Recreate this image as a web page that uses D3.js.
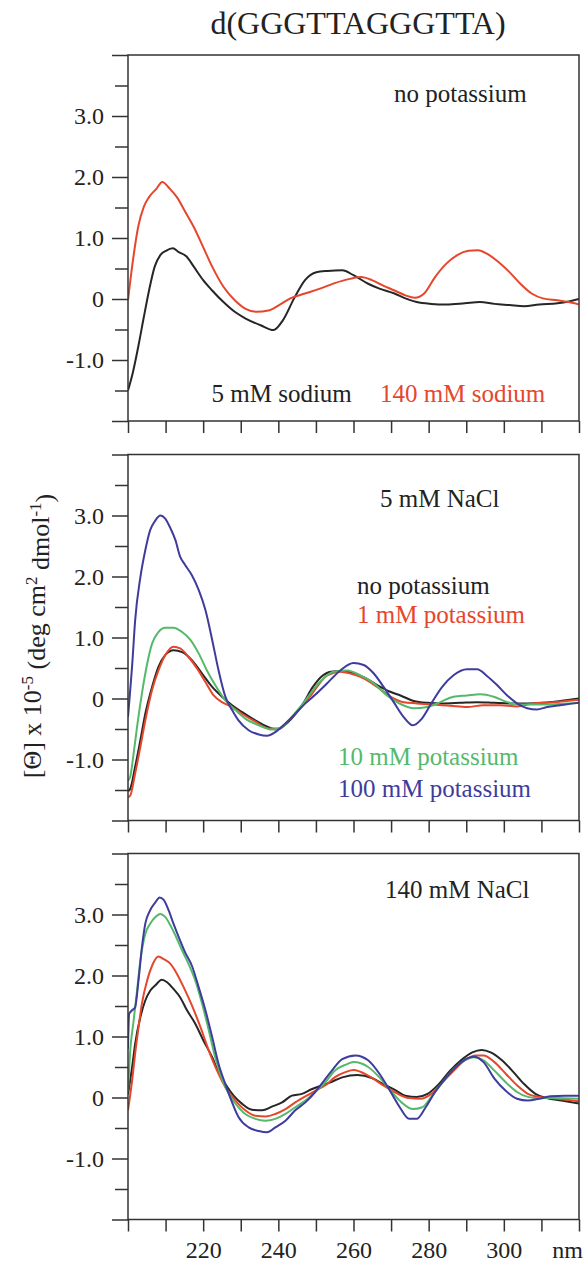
<!DOCTYPE html>
<html>
<head>
<meta charset="utf-8">
<script src="https://cdn.jsdelivr.net/npm/d3@7"></script>
<style>
  html, body { margin: 0; padding: 0; background: #fff; }
  svg { display: block; }
  text { font-family: "Liberation Serif", "Times New Roman", serif; fill: #222; }
</style>
</head>
<body>
<svg id="chart" width="583" height="1263"></svg>
<script>
// ---------------- DATA ----------------
const title = "d(GGGTTAGGGTTA)";
const xTickValues = [200, 210, 220, 230, 240, 250, 260, 270, 280, 290, 300, 310, 320];
const xTickLabels = [220, 240, 260, 280, 300];
const yMajorTicks = [-2, -1, 0, 1, 2, 3, 4];
const yMinorTicks = [-1.5, -0.5, 0.5, 1.5, 2.5, 3.5];
const yTickLabels = { "3": "3.0", "2": "2.0", "1": "1.0", "0": "0", "-1": "-1.0" };

// Panel 1: no potassium
const p1Sodium5 = [[200,-1.5],[201.2,-1.23],[202.7,-0.79],[204.2,-0.3],[205.6,0.14],[207.1,0.53],[208.6,0.72],[210.1,0.79],[211.9,0.83],[213.5,0.77],[215.5,0.7],[217.5,0.53],[220,0.31],[222.4,0.14],[225.4,-0.05],[228.4,-0.21],[231.3,-0.32],[235.3,-0.43],[238.7,-0.51],[241.2,-0.35],[244.2,0.01],[247.1,0.31],[250.1,0.44],[253.1,0.46],[257,0.47],[260,0.39],[263.9,0.25],[266.9,0.17],[270.9,0.09],[273.8,0.01],[276.8,-0.05],[280.7,-0.08],[284.7,-0.09],[289.6,-0.07],[293.6,-0.05],[297.5,-0.08],[301.5,-0.1],[305.4,-0.12],[309.4,-0.09],[314.3,-0.07],[317.3,-0.04],[320,0.0]];
const p1Sodium140 = [[200,-0.02],[201.2,0.58],[202.7,1.18],[204.2,1.51],[205.6,1.67],[207.6,1.81],[209.1,1.92],[211.1,1.81],[213,1.67],[215.5,1.4],[217.5,1.18],[220,0.85],[222.4,0.53],[225.4,0.2],[228.4,-0.02],[231.3,-0.16],[234.3,-0.21],[237.3,-0.19],[240.2,-0.1],[243.2,0.01],[247.1,0.09],[251.1,0.17],[255,0.26],[259,0.33],[262,0.36],[264.9,0.31],[267.9,0.22],[270.9,0.14],[273.8,0.06],[276.3,0.02],[278.8,0.09],[281.7,0.36],[284.7,0.58],[287.6,0.72],[290.6,0.79],[293.1,0.8],[295.6,0.74],[298.5,0.61],[301.5,0.44],[304.4,0.25],[307.4,0.09],[310.4,0.01],[314.3,-0.02],[317.3,-0.05],[320,-0.09]];

// Panel 2: 5 mM NaCl
const p2NoK = [[200,-1.52],[200.6,-1.48],[201.9,-1.12],[203.3,-0.68],[204.6,-0.25],[206.4,0.19],[208.1,0.52],[209.9,0.71],[212.1,0.79],[214.4,0.76],[217,0.63],[219.7,0.41],[222.4,0.19],[225,0.03],[227.7,-0.11],[230.3,-0.22],[233.9,-0.36],[237.4,-0.47],[239.6,-0.51],[242.7,-0.38],[246.3,-0.11],[249.2,0.19],[251.5,0.36],[254,0.44],[256.5,0.45],[259.2,0.43],[262.7,0.35],[266.3,0.22],[269.8,0.11],[272.5,0.05],[276,-0.04],[279.6,-0.07],[284,-0.08],[288.4,-0.07],[292.9,-0.06],[297.3,-0.07],[301.7,-0.08],[306.2,-0.08],[310.6,-0.07],[315,-0.04],[320,0.0]];
const p2K1 = [[200,-1.62],[200.6,-1.59],[201.9,-1.23],[203.3,-0.79],[204.6,-0.36],[206.4,0.14],[208.1,0.46],[209.9,0.71],[212.1,0.85],[213.9,0.82],[216.1,0.68],[218.4,0.49],[220.6,0.27],[222.8,0.05],[225,-0.06],[227.7,-0.14],[230.3,-0.25],[233.9,-0.38],[237.4,-0.49],[240.1,-0.49],[242.7,-0.36],[245.4,-0.19],[249,0.08],[251,0.25],[253,0.38],[256.5,0.44],[259.2,0.41],[262.7,0.33],[266.3,0.19],[269.8,0.03],[273.3,-0.06],[276.9,-0.08],[281.3,-0.1],[285.8,-0.12],[290.2,-0.14],[294.6,-0.11],[299.1,-0.11],[303.5,-0.13],[307.9,-0.08],[313.3,-0.06],[318.6,-0.03],[320,-0.02]];
const p2K10 = [[200,-1.35],[200.6,-1.28],[201.5,-0.9],[202.4,-0.47],[203.7,0.08],[205.1,0.57],[206.4,0.9],[208.1,1.09],[209.9,1.16],[212.1,1.16],[214.4,1.09],[216.6,0.96],[218.8,0.74],[221,0.46],[223.2,0.22],[225.9,-0.03],[228.6,-0.19],[231.2,-0.33],[234.8,-0.44],[238.3,-0.51],[241,-0.47],[243.6,-0.3],[247.2,-0.03],[250.7,0.25],[254.7,0.44],[258.3,0.46],[261.8,0.38],[265.4,0.25],[268.9,0.05],[272.5,-0.09],[276,-0.16],[279.6,-0.14],[283.1,-0.06],[286.6,0.03],[290.2,0.05],[293.7,0.07],[297.3,0.03],[300.9,-0.06],[304.4,-0.1],[309.7,-0.1],[315,-0.09],[320,-0.07]];
const p2K100 = [[200,-0.3],[201.2,0.63],[201.9,1.28],[203.3,1.99],[204.6,2.43],[205.9,2.76],[207.3,2.92],[208.6,3.0],[209.9,2.95],[211.3,2.79],[212.6,2.6],[213.9,2.32],[215.2,2.19],[217,2.02],[218.8,1.78],[220.6,1.45],[222.4,0.96],[224.1,0.46],[225.9,0.03],[227.7,-0.19],[229.4,-0.36],[232.1,-0.52],[234.8,-0.59],[237,-0.61],[239.2,-0.55],[241.9,-0.41],[244.5,-0.25],[247.2,-0.08],[249.8,0.06],[253,0.25],[256.5,0.46],[260,0.58],[262.7,0.55],[265.4,0.41],[268,0.19],[270.7,-0.06],[273.3,-0.3],[275.8,-0.44],[278.2,-0.33],[280.9,-0.06],[283.6,0.19],[286.6,0.38],[290.2,0.48],[292.9,0.48],[295.5,0.37],[298.2,0.22],[300.9,0.05],[303.5,-0.08],[306.2,-0.16],[308.8,-0.18],[311.5,-0.14],[315,-0.11],[318.6,-0.08],[320,-0.07]];

// Panel 3: 140 mM NaCl
const p3NoK = [[200,0.05],[201.1,0.5],[201.9,0.88],[203.3,1.32],[204.6,1.59],[205.9,1.75],[207.3,1.84],[209,1.93],[210.4,1.89],[212.1,1.78],[213.9,1.64],[215.7,1.43],[217.9,1.21],[220.1,0.93],[222.4,0.66],[224.1,0.41],[225.9,0.22],[228.1,0.03],[230.3,-0.1],[233,-0.2],[235.7,-0.21],[238.3,-0.15],[241,-0.08],[243.6,0.03],[246.3,0.06],[249,0.14],[251.2,0.19],[253.5,0.24],[257,0.33],[261,0.37],[264.9,0.32],[267.9,0.22],[270.9,0.13],[273.8,0.03],[276.8,0.01],[279.7,0.06],[282.7,0.22],[285.7,0.44],[288.6,0.61],[291.6,0.74],[294.1,0.78],[296.5,0.74],[299.5,0.61],[302.5,0.42],[305.4,0.22],[308.4,0.06],[311.4,-0.01],[315.3,-0.05],[320,-0.1]];
const p3K1 = [[200,-0.21],[201.1,0.28],[201.9,0.72],[202.8,1.15],[203.7,1.54],[205.1,1.92],[206.4,2.16],[208.1,2.31],[209.5,2.27],[211.3,2.19],[213,2.03],[214.8,1.81],[217,1.51],[219.3,1.15],[221.5,0.77],[223.7,0.44],[225.9,0.17],[228.6,-0.05],[231.2,-0.21],[233.9,-0.3],[236.6,-0.31],[239.2,-0.27],[241.9,-0.19],[244.5,-0.08],[247.2,0.02],[249.8,0.11],[252.5,0.2],[255,0.33],[258,0.42],[260,0.45],[263.9,0.36],[267.9,0.2],[270.9,0.09],[274.8,-0.01],[277.8,-0.02],[280.7,0.06],[283.7,0.25],[286.7,0.44],[289.6,0.61],[292.6,0.69],[294.6,0.69],[297.5,0.58],[300.5,0.39],[303.5,0.2],[306.4,0.06],[309.4,0.01],[314.3,-0.02],[320,-0.06]];
const p3K10 = [[200,0.1],[200.6,0.77],[201.5,1.26],[202.4,1.75],[203.3,2.25],[204.6,2.68],[205.9,2.85],[207.3,2.96],[208.6,3.01],[209.9,2.96],[211.3,2.82],[212.6,2.66],[214.4,2.41],[216.1,2.19],[217.9,1.92],[219.7,1.54],[221.5,1.1],[223.2,0.66],[225,0.31],[226.8,0.06],[228.6,-0.1],[231.2,-0.27],[233.9,-0.35],[236.6,-0.38],[239.2,-0.35],[241.9,-0.27],[244.5,-0.16],[247.2,-0.05],[249.8,0.09],[252.5,0.25],[255,0.44],[258,0.54],[260,0.58],[263.9,0.5],[266.9,0.33],[269.9,0.11],[272.8,-0.08],[275.8,-0.19],[278.3,-0.16],[280.7,0.01],[283.7,0.25],[286.7,0.47],[289.6,0.61],[292.1,0.66],[294.6,0.61],[297.5,0.44],[300.5,0.25],[303.5,0.09],[306.4,0.01],[309.4,-0.01],[313.3,-0.01],[320,-0.02]];
const p3K100 = [[200,0.8],[200.3,1.37],[201.1,1.43],[201.9,1.48],[202.8,1.92],[203.7,2.46],[204.6,2.85],[205.9,3.07],[207.3,3.2],[208.4,3.28],[209.5,3.24],[210.8,3.07],[212.1,2.85],[213.5,2.63],[215.2,2.38],[217,2.16],[218.8,1.81],[220.6,1.43],[222.4,0.99],[224.1,0.55],[225.9,0.22],[227.7,-0.08],[229.4,-0.32],[232.1,-0.49],[234.8,-0.55],[237,-0.57],[239.2,-0.49],[241.9,-0.38],[244.5,-0.21],[247.2,-0.08],[249.8,0.09],[251.2,0.2],[254,0.42],[257,0.63],[260.5,0.69],[263.9,0.61],[266.9,0.39],[269.9,0.09],[272.3,-0.16],[274.8,-0.35],[276.8,-0.35],[279.2,-0.16],[281.7,0.09],[284.7,0.33],[287.6,0.52],[290.6,0.65],[292.1,0.67],[294.6,0.58],[297.5,0.31],[300.5,0.11],[303.5,-0.02],[306.4,-0.05],[309.4,-0.02],[312.4,0.02],[316.3,0.03],[320,0.03]];

// ---------------- STYLE / LAYOUT ----------------
const colors = { black: "#262626", red: "#e5462c", green: "#55b96b", blue: "#3e3c9c" };
const left = 128, right = 579, panelH = 366;
const panelTops = [55, 454.5, 853.5];
const serif = "'Liberation Serif', 'Times New Roman', serif";

const panels = [
  { top: panelTops[0], series: [[p1Sodium5, colors.black], [p1Sodium140, colors.red]],
    notes: [["no potassium", 394, 101.5, "#222"], ["5 mM sodium", 211.5, 401.5, "#222"], ["140 mM sodium", 380, 401.5, colors.red]], xLabels: false },
  { top: panelTops[1], series: [[p2NoK, colors.black], [p2K1, colors.red], [p2K10, colors.green], [p2K100, colors.blue]],
    notes: [["5 mM NaCl", 380, 506.5, "#222"], ["no potassium", 357, 594, "#222"], ["1 mM potassium", 357, 623, colors.red],
            ["10 mM potassium", 338, 765, colors.green], ["100 mM potassium", 338, 796.5, colors.blue]], xLabels: false },
  { top: panelTops[2], series: [[p3NoK, colors.black], [p3K1, colors.red], [p3K10, colors.green], [p3K100, colors.blue]],
    notes: [["140 mM NaCl", 385, 898, "#222"]], xLabels: true }
];

const svg = d3.select("#chart");
const x = d3.scaleLinear().domain([200, 320]).range([left, right]);

svg.append("text").attr("x", 358).attr("y", 34).attr("text-anchor", "middle")
  .style("font-size", "32px").style("font-family", serif).text(title);

const labelY = 38; // x tick label baseline offset below axis

panels.forEach((p, i) => {
  const y = d3.scaleLinear().domain([-2, 4]).range([p.top + panelH, p.top]);
  const g = svg.append("g");

  const clipId = "clip" + i;
  g.append("clipPath").attr("id", clipId).append("rect")
    .attr("x", left).attr("y", p.top).attr("width", right - left).attr("height", panelH);

  const line = d3.line().x(d => x(d[0])).y(d => y(d[1])).curve(d3.curveMonotoneX);
  const curves = g.append("g").attr("clip-path", `url(#${clipId})`);
  p.series.forEach(([data, color]) => {
    curves.append("path").datum(data).attr("d", line)
      .attr("fill", "none").attr("stroke", color).attr("stroke-width", 2)
      .attr("stroke-linejoin", "round");
  });

  // frame
  g.append("rect").attr("x", left).attr("y", p.top).attr("width", right - left).attr("height", panelH)
    .attr("fill", "none").attr("stroke", "#333").attr("stroke-width", 1.5);

  // y axis: major
  const yAxis = d3.axisLeft(y).tickValues(yMajorTicks).tickSize(16).tickPadding(8)
    .tickFormat(d => yTickLabels[String(d)] || "");
  const ya = g.append("g").attr("transform", `translate(${left},0)`).call(yAxis)
    .attr("font-family", serif);
  ya.select(".domain").remove();
  ya.selectAll("line").attr("stroke", "#333").attr("stroke-width", 1.5);
  ya.selectAll("text").style("font-size", "24px").style("font-family", serif).attr("fill", "#222");

  // y axis: minor
  const yMinor = d3.axisLeft(y).tickValues(yMinorTicks).tickSize(13).tickFormat("");
  const ym = g.append("g").attr("transform", `translate(${left},0)`).call(yMinor);
  ym.select(".domain").remove();
  ym.selectAll("line").attr("stroke", "#333").attr("stroke-width", 1.5);

  // x axis
  const xAxis = d3.axisBottom(x).tickValues(xTickValues).tickSize(12)
    .tickFormat(d => (p.xLabels && xTickLabels.includes(d)) ? String(d) : "");
  const xa = g.append("g").attr("transform", `translate(0,${p.top + panelH})`).call(xAxis)
    .attr("font-family", serif);
  xa.select(".domain").remove();
  xa.selectAll("line").attr("stroke", "#333").attr("stroke-width", 1.5);
  xa.selectAll("text").attr("y", labelY).attr("dy", 0)
    .style("font-size", "24px").style("font-family", serif).attr("fill", "#222");
  if (p.xLabels) {
    g.append("text").attr("x", x(320) + 4).attr("y", p.top + panelH + labelY).attr("text-anchor", "end")
      .style("font-size", "24px").style("font-family", serif).text("nm");
  }

  p.notes.forEach(([t, tx, ty, c]) => {
    g.append("text").attr("x", tx).attr("y", ty).style("font-size", "25px")
      .style("font-family", serif).style("fill", c).text(t);
  });
});

// y axis title
const yt = svg.append("text").attr("transform", "translate(41,636) rotate(-90)")
  .attr("text-anchor", "middle").style("font-size", "26px").style("font-family", serif);
yt.append("tspan").text("[\u0398] x 10");
yt.append("tspan").attr("dy", "-0.45em").style("font-size", "17px").text("-5");
yt.append("tspan").attr("dy", "0.45em").text(" (deg cm");
yt.append("tspan").attr("dy", "-0.45em").style("font-size", "17px").text("2");
yt.append("tspan").attr("dy", "0.45em").text(" dmol");
yt.append("tspan").attr("dy", "-0.45em").style("font-size", "17px").text("-1");
yt.append("tspan").attr("dy", "0.45em").text(")");
</script>
</body>
</html>
